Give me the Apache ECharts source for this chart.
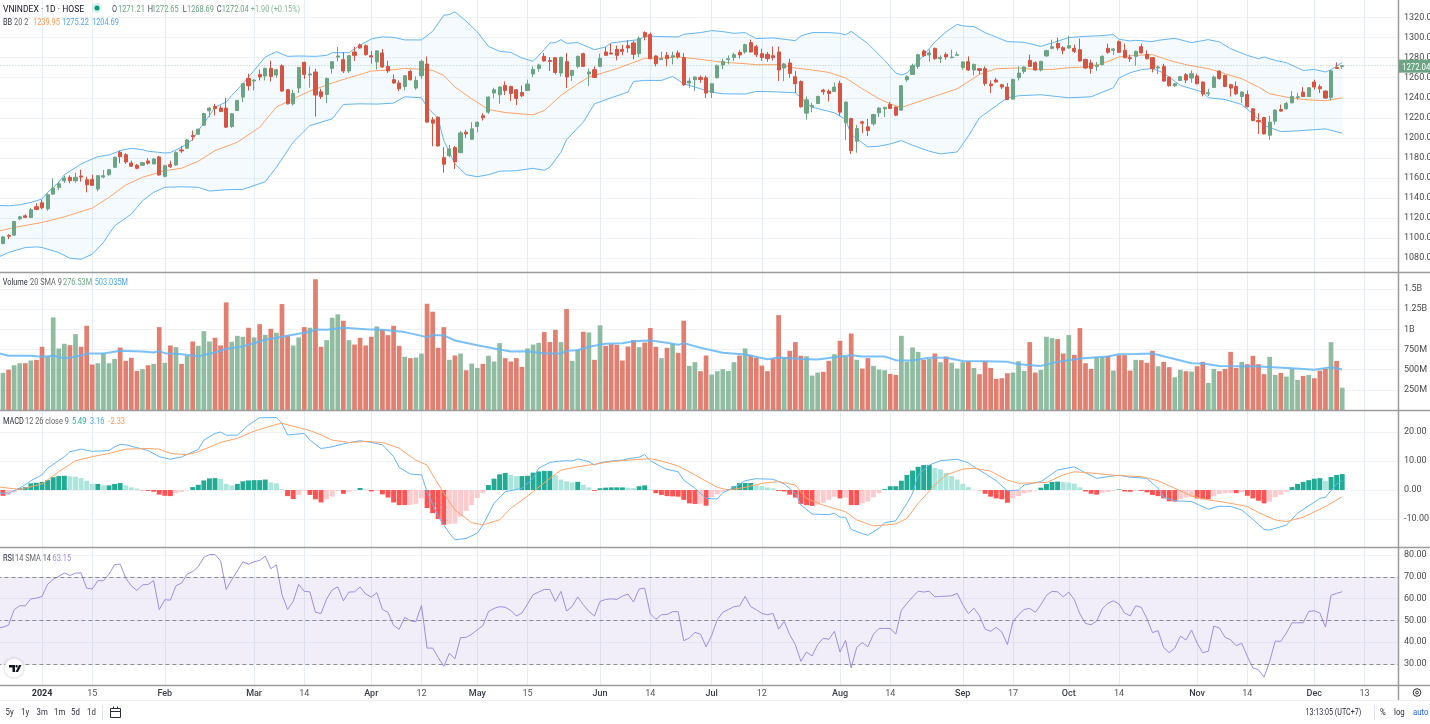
<!DOCTYPE html>
<html><head><meta charset="utf-8">
<style>html,body{margin:0;padding:0;background:#fff}#c{width:1430px;height:724px}</style>
<script src="https://cdn.jsdelivr.net/npm/echarts@6/dist/echarts.min.js"></script>
</head><body><div id="c"></div>
<script>
const barCount = 252;
const tickIndexes = [8,17,30,46,55,67,76,86,95,108,117,128,137,151,160,173,182,192,201,215,224,236,245];
const tickLabels = ['2024','15','Feb','Mar','14','Apr','12','May','15','Jun','14','Jul','12','Aug','14','Sep','17','Oct','14','Nov','14','Dec','13'];

const opens = [1098,1094.7,1102.7,1103,1119.3,1122.3,1120.7,1131.3,1135.3,1129.3,1144,1150.7,1157.3,1160.7,1157.3,1162,1158.3,1158.7,1149,1161,1163.3,1170.7,1185.7,1183.3,1175,1172.7,1172.7,1177,1174,1181,1161.7,1173.3,1173,1188,1189.7,1202.3,1203.7,1212.7,1227,1231.3,1229.7,1229.7,1211.3,1227.3,1240.7,1259.3,1256.7,1263.3,1261.7,1269.3,1262.7,1272,1248,1234,1249.7,1275.3,1262.7,1265.7,1246,1243.3,1269.3,1280.7,1278,1266.7,1285.7,1292.7,1292,1282,1275.7,1284.7,1271.3,1258,1254.7,1251.3,1266.3,1249.7,1262,1273.7,1218,1220.7,1180.3,1182.3,1190.3,1185.3,1205.7,1198.7,1211.3,1222,1225.7,1244.7,1243,1252.3,1251.3,1248,1245.3,1247.3,1263.7,1269.3,1281.3,1277.3,1280,1264.7,1276,1262.3,1271.3,1284,1263.7,1268,1271.3,1285.7,1284.7,1288.3,1288.3,1292,1294.7,1284,1305,1303,1281.7,1278,1282.3,1280.7,1284.7,1280,1254.7,1258,1260.3,1260,1245.3,1260,1272.7,1278,1280,1285.3,1285.7,1295,1291,1284,1283.3,1282,1285.7,1269.7,1274.7,1261,1256.3,1224.7,1231,1234.3,1247.7,1246.7,1246.3,1254.3,1215,1219.3,1196.7,1216,1211,1214,1225,1229,1233.3,1230.7,1227.7,1258,1263.3,1271.3,1286.7,1282.7,1289.3,1279,1283.3,1280,1282.3,1270.3,1276,1267.7,1269,1269,1253.7,1257.7,1253,1250.7,1238.7,1260,1266.3,1277.3,1275,1267.7,1281.7,1289.3,1294.3,1290,1289.7,1289.3,1288,1278.3,1274.7,1271.3,1273,1289.3,1287.3,1296,1287.3,1280,1281.3,1291,1283.3,1280,1269.7,1271.3,1260.7,1252,1257.3,1263,1259.7,1261.7,1255.7,1244,1250.3,1266.7,1262.3,1253,1251.3,1241.3,1243.3,1229,1217.3,1220.3,1202.7,1216.7,1228.3,1229,1235,1240.3,1245.7,1241.3,1255.7,1251,1246.7,1240.3,1270.3,1271.21];
const closes = [1096,1101.3,1102,1116.7,1121.3,1120.7,1128.3,1128.7,1130.3,1143.3,1150,1154.3,1160,1157.3,1160.7,1161,1153.3,1152.7,1162.3,1162.3,1168.3,1180.7,1181.3,1176,1171.7,1169.7,1175.3,1174.7,1179,1163,1172.3,1171.3,1185.3,1187,1198,1201.3,1208.7,1224.3,1229.7,1229.3,1226.3,1210.7,1224,1237.3,1254,1252,1257.7,1260.7,1269.3,1261.3,1268,1246.7,1234,1244.3,1270.3,1263.3,1263.7,1242.7,1241.3,1259.3,1276,1281.7,1266.7,1282,1282.3,1289.7,1283,1280.7,1286.7,1270.7,1266.7,1254.7,1249,1262,1258,1257.3,1276.3,1215.7,1214.7,1192,1173.7,1189,1176.3,1205,1204,1209,1215.7,1220,1240.7,1248,1250.7,1247.3,1244.3,1239.3,1242,1253.7,1268.3,1272.7,1276.7,1276.3,1265.3,1280.3,1260.7,1267.3,1281.3,1271.3,1265.7,1260.3,1279.3,1282.3,1283.7,1282.3,1286.3,1289.7,1283.3,1299.3,1300.7,1279,1274,1279,1279,1282,1280.7,1253,1256.7,1260.7,1258.3,1244.7,1254,1272,1276.3,1279,1283,1282.7,1293,1285.7,1283,1280,1279,1280,1267.7,1273.7,1264.3,1254,1231,1238,1232.3,1241.3,1246,1244.3,1250.7,1225.7,1235.7,1187.3,1209.3,1214.7,1207.3,1223.3,1229.7,1230.3,1229.3,1222.7,1252,1261,1272,1283,1282,1284.7,1279,1280.3,1280.7,1280.7,1283,1275.7,1267.7,1273.3,1267.3,1254.3,1252,1255.7,1250.7,1238.3,1258.3,1264.7,1270.7,1271.3,1267.7,1276.3,1287,1291,1289.7,1287.3,1292,1286.3,1276.7,1269.7,1269.3,1272.3,1281.3,1285.3,1288.7,1285.3,1280,1279,1286.3,1284.7,1279,1269,1270.7,1256.7,1252,1254,1261,1257.7,1264,1254,1243.7,1245,1260.7,1259,1251.3,1249.7,1244,1245.7,1231,1217.3,1216,1204,1215.7,1227.7,1226.7,1234.3,1241.3,1241,1241.3,1250,1250.7,1249,1239.7,1266.7,1269.3,1272.04];
const highs = [1100,1102,1104,1117.3,1122.3,1123.7,1130,1134.7,1138,1144.7,1159.7,1156.3,1162.3,1162.7,1165.3,1168.3,1161.3,1163.3,1162.5,1168,1169,1181.3,1187.3,1184.7,1177.3,1174,1176,1179.7,1180,1182,1173.3,1177.3,1186.7,1192,1199,1207.3,1209.3,1225,1230.7,1234,1232.3,1240,1224.7,1238,1254.7,1264,1258.3,1268,1270,1277,1269,1273.3,1248.7,1248,1270.7,1276,1271.3,1269,1249,1260,1276.7,1290.7,1285.7,1282.7,1290.7,1294,1293.3,1286.7,1287.3,1288.7,1277,1263.3,1257.3,1262.7,1268,1261.3,1278,1281.3,1220.7,1221.3,1190.7,1193,1192,1206.7,1208,1215.7,1216.3,1224.7,1241.3,1250,1251.3,1256.3,1252,1248.7,1252.3,1258,1271.3,1274,1284.7,1280.7,1280.7,1281,1284.7,1268,1282,1285,1269,1271.3,1284,1290.7,1294,1292,1292.7,1297.3,1296.7,1301,1306.3,1305,1282.3,1286,1285.7,1286,1287.3,1284.7,1260,1261.3,1262.3,1262,1254.7,1273.3,1279,1282.3,1285,1287.3,1294,1298,1292.7,1289,1285.7,1291,1291,1274.7,1279,1266.7,1257.3,1241.3,1235,1242,1249,1248.3,1255.3,1257,1236.3,1220,1213,1217,1219,1224,1230.7,1231,1235.7,1231.3,1252.7,1262.3,1274,1284,1288,1288,1290,1282.3,1285.3,1288,1286,1276.3,1281.3,1274,1269.7,1271.3,1257.3,1260,1254,1254.7,1259,1271.3,1271.3,1283,1276.3,1277,1288,1298,1300,1291.3,1302,1293,1299,1279,1278,1275.7,1282.3,1294,1289.7,1297.3,1294,1283,1287,1294,1287.3,1280.7,1272.3,1274,1261.3,1254.7,1261.7,1264.7,1267.3,1264,1256.3,1249,1262,1267.3,1263,1254,1256.3,1246.7,1247.3,1229.7,1224.7,1221,1222,1228.3,1233.3,1236,1246.7,1245,1250.7,1250.7,1258,1253.3,1247.3,1268,1275.3,1272.65];
const lows = [1095,1093.7,1099,1103,1118,1120,1120,1128,1128.7,1127.3,1143.3,1148,1155,1154.7,1155.3,1156.3,1145.7,1152,1146.7,1159.7,1162.3,1170,1174.7,1174,1171,1168.7,1172,1173.3,1174,1162.3,1160.7,1170,1172.3,1185,1189,1197.3,1203.3,1212,1220.7,1222.3,1225.7,1210,1210,1226.7,1235.7,1247.3,1247.3,1257.3,1257.3,1256.3,1260,1246,1233.3,1232.3,1244.7,1258.7,1250,1221.3,1238.7,1234.7,1264,1276.3,1264.7,1264.7,1276.7,1289,1282,1274,1268.3,1270,1264.7,1254,1246.7,1247.3,1257.3,1248,1258.7,1215.3,1191.7,1191.3,1165.3,1180.7,1169,1184.7,1200,1198,1205.7,1217.3,1224,1239.3,1234,1242.7,1236.7,1232.7,1240.7,1246.7,1260.7,1266,1276,1266.7,1263.3,1261.3,1249.7,1256.7,1269.3,1270.7,1251.7,1259.7,1270.7,1282,1283.3,1277.3,1282.3,1285,1278.3,1280.7,1297.3,1278.3,1271.3,1278,1271.3,1273.3,1279,1251.7,1250,1246.7,1255,1239.7,1239.7,1259.3,1268.3,1273.3,1276.7,1279.3,1284,1285,1280.7,1276.7,1276,1277.3,1256.7,1256.7,1260,1244.7,1230.3,1218.3,1225.7,1234,1243,1236.3,1245.7,1222,1197.7,1184,1185.3,1204.7,1202,1212.3,1220.7,1220.7,1228.7,1221.7,1227,1256,1262.7,1268.7,1280.7,1276,1278,1274.7,1278,1279.3,1282,1268,1266.7,1262.3,1263.3,1252,1244.7,1255,1248.7,1237.7,1238,1257.3,1264,1270.7,1267,1266.3,1281,1288.3,1287.3,1283.3,1288.7,1284.7,1276,1269,1264,1266.7,1272.3,1284,1282.7,1284.7,1279.3,1275.7,1272,1284,1278.3,1265.3,1263.7,1256,1251.3,1250.7,1256.7,1254.7,1255,1253.3,1241.3,1241.7,1249.7,1258.3,1250.7,1241.3,1242.7,1234.7,1230.3,1216.7,1204,1203.3,1198,1213.3,1226,1228.3,1234.3,1238.3,1240.7,1240.7,1248,1244.7,1239,1237.3,1268.7,1268.69];

const volumes = [560,460,500,555,580,580,614,622,784,660,1148,763,821,804,941,784,1045,564,580,700,580,634,775,610,647,485,506,555,572,1028,585,800,780,572,672,850,796,978,850,896,800,1335,846,920,908,1020,900,1065,933,1007,958,1314,925,800,900,1028,1020,1621,784,866,1144,1186,1107,866,812,896,800,908,1036,999,928,1045,796,660,643,651,700,1318,1219,771,1028,622,676,700,493,576,522,572,672,601,829,643,601,643,535,763,812,833,966,842,995,842,1252,610,750,970,962,622,1049,796,817,808,614,788,866,780,837,1016,784,643,771,821,709,1107,547,593,481,676,440,481,506,485,593,676,763,684,647,551,481,634,1177,655,734,842,672,667,427,464,473,610,692,858,667,949,622,514,643,547,502,493,448,435,920,601,775,721,622,634,700,593,663,585,514,593,605,522,444,605,522,386,394,456,464,605,485,842,464,498,908,891,879,700,929,684,1016,580,510,655,655,672,489,680,680,489,622,618,585,734,543,597,531,406,498,481,477,543,597,336,510,481,510,721,522,597,568,672,568,444,659,435,460,415,510,373,423,435,394,489,510,842,609,276.53];
const macdHist = [-2,-2,-1.7,-0.8,0.6,1,2.3,2.5,2.8,3.4,4.4,4.8,4.9,4.7,4.6,4.1,3.2,2.1,2.1,1.6,1.6,2.1,2.4,1.6,0.9,0.5,-0.1,-0.3,-0.6,-1.6,-2,-2.1,-1.1,-0.7,-0.1,1,1.8,3.3,4,4.1,3.8,2.1,1.6,2.1,3,3.3,3.4,3.4,3.6,2.6,2.3,0.3,-2.1,-3.1,-1.7,-0.3,-1.7,-3.2,-4.3,-3.2,-2.3,-0.3,-1.3,-0.6,-0.1,0.7,0.2,-0.5,-0.3,-1.5,-2.6,-4.3,-5.2,-5.2,-5.1,-4.8,-2.9,-6.2,-8,-10,-12,-11.7,-11.6,-9.2,-7.2,-5.2,-2.8,-1.1,1.7,3.9,5.4,5.9,5.2,4.8,4.8,4.9,6,6.4,6.6,6.6,5.1,3.6,3,2.6,2.8,1.8,0.9,-0.3,0.6,0.8,0.9,0.9,0.9,0.8,0.7,1.3,1.6,0.2,-1.1,-1.7,-2.1,-2.2,-2.3,-3.4,-4.6,-4.8,-4.7,-5.4,-2.5,-1.5,-0.6,0.3,1.3,2.4,2.4,2.4,1.6,1.4,0.9,0.6,-0.3,-0.5,-1.6,-2.6,-4.8,-5.2,-5.5,-5.1,-4.4,-3.4,-2.3,-2.9,-2.6,-5.2,-5.2,-4.6,-4,-2.5,-1.1,0.3,1.3,1.3,3.2,5.2,6.7,8,8.6,8.6,7.6,7.1,5.9,4.8,3.6,2.1,1,0.1,-0.1,-1.3,-2.3,-2.9,-3.2,-4.4,-3,-2.1,-1.1,-0.8,-0.1,0.8,2.1,2.8,2.9,2.8,2.6,2.2,0.9,-0.5,-1.3,-1.6,-0.9,-0.7,-0.3,0.2,-0.5,-0.6,-0.3,-0.3,-0.8,-1.7,-2.1,-2.9,-3.9,-4,-3.2,-2.6,-2.5,-2.9,-3.2,-3.2,-2.1,-1.4,-1.1,-1,-1.1,-0.8,-2,-2.9,-3.7,-4.6,-4,-2.5,-1.7,-0.6,1,2.1,2.8,3.4,3.9,4.1,3.2,4.5,5.2,5.49];
const rsi = [46.5,46.9,47.9,54.9,56.7,56.7,59.9,60.2,61,66.6,68.8,70.2,71.8,70.6,71.7,71.8,64.8,64.4,68.2,68.2,71.2,75.6,75.8,69.4,65.9,63.7,66.3,66.5,68.3,54.9,59.5,59.3,65.9,67.1,71.2,72.4,74.7,78.9,80.2,80.2,77.3,64.2,68.6,72.7,76.9,75.8,76.9,77.5,79.5,73.7,75.5,61.8,55,58.7,66.5,63.3,63.1,53.7,53.2,59.8,64,65.4,59,63,63.1,65.3,62.1,60.7,62.7,55,53.7,47.7,45.9,51.4,49.8,49.4,56.9,37.3,37.3,33,28.9,34.9,32.4,42.1,42.2,43.7,45.7,47.6,54,55.5,56.3,56,54.6,52,53.4,57.5,61.8,63,64.2,64.2,58.7,63.3,54.3,56.4,60.8,57.2,54.1,52,58.7,59.6,59.9,59.6,61.1,62.1,58.4,64.4,64.8,53.1,50.5,52.6,52.7,54,54,40.7,41.9,44.5,43.7,37.9,43.1,50.3,53.7,55,56.3,56.6,61,56.3,54.9,53.2,52.6,53.2,46,49.5,43.4,38.9,31.2,35.5,33.7,38.9,41.8,41.3,45,35.5,40.8,28.2,37.6,39.8,37.9,43.7,46.3,46.3,46.3,43.7,54.6,57.8,60.7,63.4,63,63.4,60.8,61,61.1,61.3,62.4,57.2,53.1,55.6,52.1,46,45,46.8,44.7,38.9,49.5,52.6,55,55.5,53.7,57.2,61.5,63.3,63.1,60.8,63,59.5,52.9,48.6,48,49.7,55.3,57.8,59,57.5,53.4,52.1,56.7,56,50.8,44.4,45.3,37.6,35.2,37.3,42.8,41,45.6,39.6,35.2,35.8,47.4,46.5,42.2,41.1,38.4,39.5,33.5,28.2,27.4,24,31.2,40.5,40.4,44.2,48.9,48.9,48.9,54.1,54.4,53.4,46.9,61.5,62.4,63.15];

const bbUpper = [[0,1132.7],[2,1132.3],[4,1133.3],[6,1135.7],[8,1139],[9,1145.7],[11,1155.7],[12,1163.3],[15,1174],[17,1179],[18,1181.3],[20,1183],[22,1187.3],[24,1189.7],[26,1188.3],[27,1186.7],[30,1185],[31,1185.3],[33,1190.7],[35,1198.3],[36,1207.3],[38,1222.3],[39,1230.7],[41,1235.7],[42,1242.3],[44,1254],[46,1267.3],[48,1280.7],[50,1286],[52,1281.3],[54,1281.7],[57,1281.3],[59,1282.3],[60,1285],[63,1285],[65,1292.5],[67,1298.7],[69,1300.7],[71,1300.3],[73,1297.7],[76,1297.7],[78,1306.3],[80,1322.3],[81,1323],[82,1325.7],[84,1316.3],[86,1305.7],[88,1291.3],[90,1286.3],[92,1285.3],[94,1279.7],[96,1276.3],[98,1288],[99,1294.7],[100,1295],[101,1298],[102,1294.3],[104,1295],[107,1288],[109,1290.7],[110,1294.7],[113,1296.7],[115,1298],[116,1301.7],[119,1301],[122,1300.7],[123,1303.3],[126,1305],[128,1307],[130,1306],[132,1304.3],[134,1305],[136,1299],[139,1299.7],[143,1297],[144,1301.7],[146,1305],[149,1305],[151,1304.3],[152,1302.7],[153,1306.3],[156,1294],[159,1277.3],[161,1264.7],[162,1262.7],[163,1264.7],[166,1282.3],[168,1295.7],[170,1305.7],[172,1313.3],[173,1311.7],[175,1311],[177,1305],[181,1296],[184,1295.3],[187,1291.3],[189,1294.7],[192,1300],[195,1301.3],[198,1302],[200,1303],[201,1298.3],[203,1296.7],[204,1297.3],[207,1296],[208,1297.3],[211,1299.3],[214,1295],[217,1298],[219,1295.7],[221,1289],[224,1282.3],[226,1279],[227,1280.7],[229,1277.3],[231,1275],[234,1267.3],[236,1268.3],[238,1265.7],[239,1268],[241,1275.22]];
const bbMiddle = [[0,1106.7],[3,1110.7],[8,1115.7],[12,1121.3],[17,1130],[20,1140.7],[23,1153],[26,1160.7],[30,1167.3],[33,1169.7],[36,1176.7],[39,1187.3],[43,1195.7],[47,1210.7],[50,1230.7],[53,1239],[56,1246.7],[60,1254.7],[63,1260],[65,1263.2],[67,1266.7],[71,1268],[73,1269.3],[76,1268.3],[78,1267.3],[80,1262.3],[82,1250.7],[85,1239],[88,1228.3],[91,1225.3],[96,1223],[98,1227.3],[101,1242.3],[104,1254],[106,1260.7],[111,1269],[116,1279.3],[118,1279.3],[122,1280.7],[125,1279],[130,1275.4],[134,1274],[136,1273],[140,1273],[143,1269.7],[146,1267.7],[149,1265.3],[152,1259.7],[155,1249],[158,1239],[160,1234],[162,1230.3],[167,1239.7],[172,1249],[176,1263.3],[179,1269],[183,1269.7],[186,1268.3],[189,1268.3],[192,1270],[195,1270.7],[198,1274],[201,1280.7],[204,1282.3],[207,1283],[210,1277.3],[213,1273],[217,1269],[220,1264],[223,1259],[226,1250.7],[228,1244],[231,1240.7],[234,1238.3],[238,1237],[241,1239.95]];
const bbLower = [[0,1080.7],[2,1085.7],[5,1090.7],[7,1091.3],[8,1090.7],[11,1085.7],[13,1080],[15,1079],[17,1084],[19,1095.7],[21,1112.3],[24,1124],[26,1137.3],[28,1145.7],[30,1150.7],[33,1151.3],[36,1150.7],[38,1147],[41,1148.3],[44,1148.7],[48,1156.3],[50,1170.7],[53,1195.7],[56,1212.3],[60,1219],[62,1233.3],[65,1234],[68,1233.7],[71,1234.7],[73,1241],[76,1240],[77,1230.7],[79,1219],[80,1197.3],[82,1174],[84,1163.3],[86,1161.3],[88,1163.3],[90,1166.7],[93,1167.3],[96,1169.7],[98,1167.7],[99,1170.7],[101,1185.7],[102,1198.3],[105,1215.7],[107,1234],[110,1240],[113,1245.7],[114,1256.3],[116,1257.3],[119,1257.3],[121,1261.3],[123,1254],[126,1249],[128,1245.7],[130,1244],[134,1243.7],[136,1246.3],[139,1246],[143,1245],[145,1235],[146,1230.7],[150,1225],[152,1218.3],[153,1203.3],[155,1195],[156,1191],[158,1191.7],[160,1194],[162,1197.3],[164,1192.7],[167,1186.7],[169,1184],[172,1186],[174,1201.7],[176,1220],[181,1240],[183,1242],[187,1243],[192,1240],[196,1241],[200,1250],[201,1259.7],[203,1265],[205,1268],[207,1269.3],[209,1264.7],[212,1252.3],[216,1245.7],[217,1240],[220,1238.3],[223,1233.3],[225,1224],[227,1212.3],[230,1206.3],[233,1207],[238,1209],[241,1204.69]];
const volumeSma = [[0,709],[2,672],[6,672],[8,659],[10,672],[12,643],[13,651],[15,676],[16,701],[19,701],[22,734],[26,726],[28,713],[29,730],[30,705],[33,692],[36,667],[39,713],[41,759],[44,788],[48,871],[50,895],[53,933],[56,970],[57,999],[59,995],[62,1020],[66,1003],[69,995],[73,966],[77,904],[78,929],[80,925],[82,862],[86,804],[89,763],[92,726],[95,730],[98,701],[101,701],[102,734],[104,742],[106,784],[109,821],[112,829],[114,854],[117,862],[120,833],[122,808],[123,829],[126,771],[130,709],[134,688],[138,630],[140,651],[144,634],[147,626],[151,663],[153,680],[155,663],[159,663],[161,618],[164,614],[167,647],[170,647],[173,609],[177,605],[181,597],[183,568],[187,547],[190,597],[194,639],[199,663],[201,692],[204,696],[207,701],[214,580],[216,576],[219,547],[226,539],[232,518],[236,498],[239,531],[241,503.035]];
const macdLine = [[0,-1.1],[2,-1.1],[4,0.6],[6,3.2],[8,5.2],[9,7.5],[12,11.5],[13,13.2],[15,14.1],[17,13.3],[20,13.6],[21,14.9],[22,15.7],[23,15.6],[25,14.6],[27,13.6],[29,11.5],[31,10.6],[33,11.4],[36,14],[37,17.2],[39,19.5],[40,20],[41,18.9],[43,18.9],[45,22.4],[47,24.9],[50,25],[51,23],[52,19],[55,19.5],[56,17.2],[58,14.3],[60,14.9],[62,15.9],[63,16.3],[65,17],[67,16.4],[69,15.6],[71,11.5],[72,7.8],[74,5.5],[76,5.2],[77,-0.6],[79,-9.2],[81,-14.9],[82,-17.2],[84,-16.7],[86,-14.9],[87,-12.1],[89,-4.6],[91,-0.6],[94,0.6],[96,4],[97,7.5],[99,9.5],[101,10],[102,10.1],[103,10],[104,10.7],[106,9.8],[107,8.6],[108,9.4],[110,10],[112,10.3],[113,10.8],[115,11.3],[116,12.2],[117,10.1],[119,8],[120,7.1],[122,6.3],[123,3.4],[125,0.6],[127,-2.9],[129,-3.1],[130,-0.9],[132,0.9],[134,3.2],[136,3.9],[139,3.7],[141,2.1],[143,-1.1],[144,-5.2],[146,-8.3],[149,-8.5],[150,-8],[151,-9.4],[152,-9.4],[153,-13.6],[155,-15],[156,-15.6],[158,-13.2],[159,-11.3],[161,-10.6],[163,-4.6],[164,-1.1],[165,5.2],[167,8.6],[169,10.1],[172,10.6],[174,9.4],[175,8],[177,5.7],[179,3.2],[181,-0.3],[183,0],[184,1.7],[187,2.9],[190,6.9],[193,8],[194,6.9],[197,4],[199,4.6],[201,5.1],[203,4.4],[206,4],[208,0.6],[209,-2.5],[211,-3.7],[214,-4],[217,-6.6],[219,-5.6],[221,-5.7],[223,-6.9],[225,-10.1],[227,-13.6],[228,-13.8],[231,-12.1],[233,-8],[237,-2.9],[238,-2.5],[240,2.1],[241,3.16]];
const macdSignal = [[0,1.1],[4,0.2],[8,2.1],[11,6.3],[14,10.1],[17,11.5],[20,12.6],[23,14.1],[27,14.3],[29,14.1],[31,12.6],[34,12.2],[36,13.2],[40,16.4],[43,17.8],[46,20.3],[50,22.6],[51,23],[54,21.5],[56,20.5],[58,19],[60,17.2],[63,16.4],[66,16.7],[69,16.4],[72,14.4],[75,10.3],[77,8.6],[78,5.2],[80,-1.1],[82,-6.9],[85,-11.3],[87,-12],[90,-10.3],[92,-6.3],[95,-2.1],[99,4],[101,6.9],[104,8],[107,8.9],[110,9.8],[113,10.3],[117,10.8],[119,10],[122,8.3],[125,5.2],[129,0.9],[131,0],[134,0.9],[137,2.3],[140,2.9],[143,1.7],[145,-2.9],[148,-5.2],[152,-7.5],[154,-10.3],[157,-12.4],[161,-11.7],[163,-9.8],[165,-4.6],[168,1.7],[170,5.2],[173,7.2],[175,7.5],[178,6.5],[181,3.4],[183,2.3],[188,2.6],[191,5.2],[193,6.3],[197,5.7],[200,5.1],[205,4.6],[208,3.2],[211,0.6],[214,-2.1],[217,-3.4],[221,-4.6],[224,-5.7],[226,-7.8],[229,-10.3],[231,-10.9],[234,-9.4],[238,-5.7],[241,-2.33]];

const lastClose = 1272.04;
const GREEN='#6ba583', RED='#d75442', BLUE='#64b5f6', ORANGE='#ffa366', PURPLE='#a08ce0';
const HGRID='#eff3f6', VGRID='#e6eef2', FRAME='#9b9b9b', AXTXT='#4a4a4a';
const FONT='Roboto, sans-serif';
const GRID_LEFT=-2.6, GRID_W=1400.6;

const categories = Array.from({length:barCount},(_, i)=>i);
const labelAt = new Map(tickIndexes.map((ix,k)=>[ix,tickLabels[k]]));
const isTick = i => labelAt.has(i);

const chart = echarts.init(document.getElementById('c'),null,{renderer:'canvas'});

function xAx(gridIndex, showLabels, showSplit){
  return {type:'category',gridIndex,data:categories,boundaryGap:false,containShape:false,
    axisLine:{show:false},axisTick:{show:false},
    axisLabel:{show:showLabels,interval:(i)=>isTick(i),margin:3,hideOverlap:false,
      formatter:(v)=>{const s=labelAt.get(Number(v));if(!s)return '';
        if(s==='2024')return '{y|'+s+'}';
        if(/^[A-Z]/.test(s))return '{m|'+s+'}';
        return '{n|'+s+'}';},
      rich:{y:{fontSize:9,fontWeight:'bold',fontFamily:FONT,color:'#2a2e39'},m:{fontSize:9,fontFamily:FONT,color:'#3a3e49',fontWeight:500},n:{fontSize:9,fontFamily:FONT,color:'#555'}}},
    splitLine:{show:showSplit,interval:(i)=>isTick(i),lineStyle:{color:VGRID,width:1}}};
}
function yAx(gridIndex,min,max,interval,fmt){
  return {type:'value',gridIndex,position:'right',min,max,interval,scale:true,
    axisLine:{show:false},axisTick:{show:false},
    axisLabel:{show:true,showMinLabel:false,showMaxLabel:false,margin:6,fontSize:9,fontFamily:FONT,color:AXTXT,formatter:fmt,align:'left',padding:[3,0,0,0]},
    splitLine:{show:true,showMinLine:false,showMaxLine:false,lineStyle:{color:HGRID,width:1}}};
}
const fix2 = v=>Number(v).toFixed(2);
const volFmt = v=>v>=1000?(v/1000)+'B':v+'M';

function line(name,data,x,color,width,extra){
  return Object.assign({name,type:'line',data,xAxisIndex:x,yAxisIndex:x,showSymbol:false,symbol:'none',silent:true,
    lineStyle:{color,width},z:4,smooth:false},extra||{});
}

const option = {
  animation:false,backgroundColor:'#fff',
  grid:[
    {left:GRID_LEFT,top:-2.5,width:GRID_W,height:280.8,outerBoundsMode:'none'},
    {left:GRID_LEFT,top:268.9,width:GRID_W,height:141.1,outerBoundsMode:'none'},
    {left:GRID_LEFT,top:403,width:GRID_W,height:145,outerBoundsMode:'none'},
    {left:GRID_LEFT,top:533.2,width:GRID_W,height:152.6,outerBoundsMode:'none'},
    {left:GRID_LEFT,top:0,width:GRID_W,height:685.5,outerBoundsMode:'none'}
  ],
  xAxis:[xAx(0,false,false),xAx(1,false,false),xAx(2,false,false),xAx(3,true,false),xAx(4,false,true)],
  yAxis:[yAx(0,1060,1340,20,fix2),yAx(1,0,1750,250,volFmt),yAx(2,-20,30,10,fix2),yAx(3,20,90,10,fix2),
    {type:'value',gridIndex:4,min:0,max:1,show:false}],
  series:[
    {type:'custom',name:'BB band',coordinateSystem:'cartesian2d',xAxisIndex:0,yAxisIndex:0,data:[[0,1200]],z:1,silent:true,
      renderItem:(p,api)=>{
        const pts=bbUpper.concat(bbLower.slice().reverse()).map(d=>api.coord(d));
        return {type:'polygon',shape:{points:pts},style:{fill:'rgba(33,150,243,0.05)',stroke:null}};
      }},
    line('BB upper',bbUpper,0,BLUE,1),
    line('BB lower',bbLower,0,BLUE,1),
    line('BB basis',bbMiddle,0,ORANGE,1),
    {type:'candlestick',name:'VNINDEX',xAxisIndex:0,yAxisIndex:0,z:5,silent:true,barWidth:3.6,
      data:opens.map((o,i)=>[o,closes[i],lows[i],highs[i]]),
      itemStyle:{color:GREEN,color0:RED,borderColor:GREEN,borderColor0:RED,borderWidth:1},
      markLine:{silent:true,symbol:'none',animation:false,
        data:[{yAxis:lastClose}],
        lineStyle:{color:GREEN,type:[1,2],width:1,opacity:.5},
        label:{show:false}}},
    {type:'bar',name:'Volume',xAxisIndex:1,yAxisIndex:1,barWidth:4.7,z:2,silent:true,
      data:volumes.map((v,i)=>({value:v,itemStyle:{color:closes[i]>=opens[i]?'rgba(107,165,131,0.75)':'rgba(215,84,66,0.75)'}}))},
    line('Volume SMA',volumeSma,1,'rgba(100,181,246,0.85)',2),
    {type:'bar',name:'Histogram',xAxisIndex:2,yAxisIndex:2,barWidth:4.9,z:2,silent:true,
      data:macdHist.map((h,i)=>{const prev=i?macdHist[i-1]:h;
        const c=h>=0?(h>=prev?'#22ab94':'#ace5dc'):(h<=prev?'#ff5252':'#fccbcd');
        return {value:h,itemStyle:{color:c}};})},
    line('MACD',macdLine,2,BLUE,1),
    line('Signal',macdSignal,2,ORANGE,1),
    line('RSI',rsi,3,PURPLE,1,{
      markArea:{silent:true,animation:false,itemStyle:{color:'rgba(126,87,194,0.1)'},data:[[{yAxis:30},{yAxis:70}]]},
      markLine:{silent:true,animation:false,symbol:'none',label:{show:false},
        lineStyle:{color:'rgba(120,123,134,0.85)',type:[4,3],width:1},
        data:[{yAxis:30},{yAxis:50},{yAxis:70}]}
    })
  ],
  graphic:{elements:buildChrome()}
};

function T(x,y,text,fill,opt){
  opt=opt||{};
  return {type:'text',x,y,z:50,silent:true,scaleX:opt.sx||0.82,style:{text,fill,font:(opt.weight||'normal')+' '+(opt.size||9)+'px '+FONT,
    textAlign:opt.align||'left',textVerticalAlign:'middle'}};
}
function L(x1,y1,x2,y2,stroke,w){
  return {type:'line',z:40,silent:true,shape:{x1,y1,x2,y2},style:{stroke,lineWidth:w||1}};
}
function buildChrome(){
  const e=[];
  e.push(L(0,272.5,1430,272.5,FRAME,1.5),L(0,410.5,1430,410.5,FRAME,1.5),L(0,547.5,1430,547.5,FRAME,1.5),L(0,685.5,1430,685.5,FRAME,1.5));
  e.push(L(1398.5,0,1398.5,700,FRAME,1.5));
  e.push(L(0,700.5,1430,700.5,'#eeeeee',1));
  e.push(T(3,9.5,'VNINDEX · 1D · HOSE','#131722',{size:9.5,sx:0.9}));
  e.push({type:'circle',z:50,silent:true,shape:{cx:97,cy:8,r:5},style:{fill:'#d9f1ec'}});
  e.push({type:'circle',z:51,silent:true,shape:{cx:97,cy:8,r:2.5},style:{fill:'#089981'}});
  [[112,'O','1271.21',118],[147.7,'H','1272.65',151.7],[182.7,'L','1268.69',187],[216.7,'C','1272.04',221.7]].forEach(r=>{
    e.push(T(r[0],9.5,r[1],'#4a4e59'));e.push(T(r[3],9.5,r[2],GREEN));});
  e.push(T(250.7,9.5,'+1.90 (+0.15%)','#86b69a'));
  e.push(T(3,23,'BB','#2a2e39'),T(14,23,'20 2','#666'),T(33,23,'1239.95','#ff9850'),T(62,23,'1275.22','#4aa8f5'),T(92,23,'1204.69','#4aa8f5'));
  e.push(T(2.7,283,'Volume','#2a2e39'),T(30,283,'20 SMA 9','#666'),T(63,283,'276.53M',GREEN),T(94.7,283,'503.035M','#4aa8f5'));
  e.push(T(3,421.5,'MACD','#2a2e39'),T(25,421.5,'12 26 close 9','#666'),T(72,421.5,'5.49','#22ab94'),T(90,421.5,'3.16','#4aa8f5'),T(108.5,421.5,'-2.33','#ff9850'));
  e.push(T(3,558.5,'RSI','#2a2e39'),T(15,558.5,'14 SMA 14','#666'),T(52.5,558.5,'63.15',PURPLE));
  // logo badge
  e.push({type:'circle',z:50,silent:true,shape:{cx:14,cy:668,r:9.5},style:{fill:'#fff',shadowBlur:3,shadowColor:'rgba(0,0,0,0.25)'}});
  e.push({type:'polygon',z:51,silent:true,shape:{points:[[9,665],[15,665],[15,672],[12.5,672],[12.5,667.5],[9,667.5]]},style:{fill:'#131722'}});
  e.push({type:'circle',z:51,silent:true,shape:{cx:16.6,cy:666.2,r:1.2},style:{fill:'#131722'}});
  e.push({type:'polygon',z:51,silent:true,shape:{points:[[19,665],[21.5,665],[18,672],[15.5,672]]},style:{fill:'#131722'}});
  // bottom toolbar
  [[5.5,'5y'],[21,'1y'],[36.5,'3m'],[54,'1m'],[71,'5d'],[87,'1d']].forEach(r=>e.push(T(r[0],712.5,r[1],'#2a2e39',{size:9.5})));
  e.push(L(102.5,705,102.5,720,'#e0e3eb',1));
  e.push({type:'rect',z:50,silent:true,shape:{x:110.5,y:708.5,width:10,height:9},style:{fill:'none',stroke:'#2a2e39',lineWidth:1}});
  e.push(L(110.5,711.5,120.5,711.5,'#2a2e39',1),L(113.5,706.5,113.5,709,'#2a2e39',1),L(117.5,706.5,117.5,709,'#2a2e39',1));
  e.push(T(1305.6,712.5,'13:13:05 (UTC+7)','#2a2e39',{size:9.5,sx:0.75}));
  e.push(L(1374.5,705,1374.5,720,'#e0e3eb',1));
  e.push(T(1380,712.5,'%','#2a2e39',{size:9.5}),T(1394,712.5,'log','#2a2e39',{size:9.5}),T(1413,712.5,'auto','#2962ff',{size:9.5}));
  // settings
  e.push({type:'circle',z:50,silent:true,shape:{cx:1417,cy:692.5,r:3.8},style:{fill:'none',stroke:'#333',lineWidth:1}});
  e.push({type:'circle',z:50,silent:true,shape:{cx:1417,cy:692.5,r:1.4},style:{fill:'none',stroke:'#333',lineWidth:1}});
  return e;
}
chart.setOption(option);
// last-price tag, placed from the price axis scale
const tagY = chart.convertToPixel({yAxisIndex:0}, lastClose);
chart.setOption({graphic:{elements:[
  {id:'tagBox',type:'rect',z:60,silent:true,shape:{x:1399,y:tagY-6,width:31,height:13},style:{fill:GREEN}},
  {id:'tagTxt',type:'text',z:61,silent:true,x:1402,y:tagY+1.5,scaleX:0.82,style:{text:fix2(lastClose),fill:'#fff',font:'9.5px '+FONT,textVerticalAlign:'middle'}}
]}});
</script></body></html>
